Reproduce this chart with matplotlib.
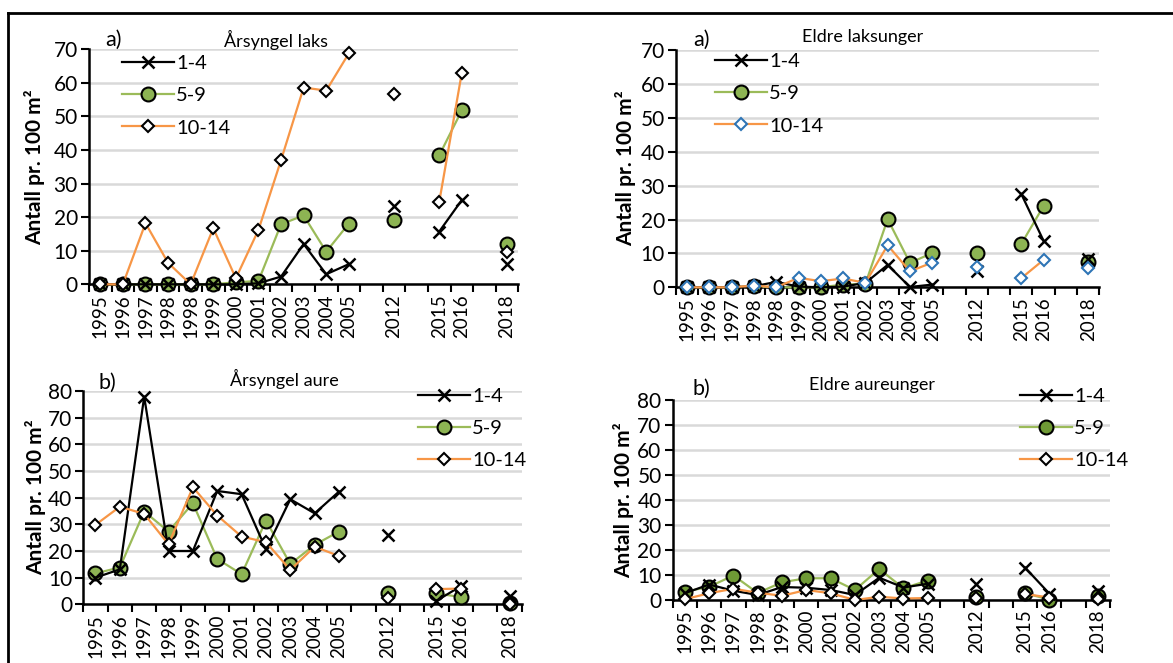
import numpy as np
import matplotlib.pyplot as plt
from matplotlib.lines import Line2D

plt.rcParams['font.family'] = ['Lato', 'DejaVu Sans']

# category labels (blank = empty slot on the axis)
years_top = ['1995', '1996', '1997', '1998', '1998', '1999', '2000', '2001', '2002', '2003',
             '2004', '2005', '', '2012', '', '2015', '2016', '', '2018']
years_bot = ['1995', '1996', '1997', '1998', '1999', '2000', '2001', '2002', '2003',
             '2004', '2005', '', '2012', '', '2015', '2016', '', '2018']
n = np.nan

# a) Arsyngel laks
laks0_14 = [0, 0, 0, 0, 0, 0, 0, 0.3, 2.3, 12, 3, 6, n, 23.3, n, 15.7, 25.1, n, 6]
laks0_59 = [0, 0, 0, 0, 0, 0, 0.6, 1.0, 17.9, 20.5, 9.7, 18.1, n, 19.2, n, 38.4, 51.8, n, 11.9]
laks0_1014 = [0, 0, 18.2, 6.4, 0, 16.7, 1.8, 16.2, 37, 58.6, 57.7, 68.8, n, 56.6, n, 24.5, 63, n, 9.7]

# a) Eldre laksunger
laks1_14 = [0, 0, 0, 0.3, 1.6, 0.2, 0, 0.2, 1.3, 6.6, 0.1, 0.8, n, 4.9, n, 27.5, 13.7, n, 8.3]
laks1_59 = [0, 0, 0, 0.3, 0, 0, 0, 0.8, 1.0, 20.1, 7.2, 10.1, n, 10.2, n, 12.8, 24.0, n, 7.4]
laks1_1014 = [0, 0, 0, 0.5, 0, 2.8, 1.8, 2.6, 1.3, 12.4, 4.7, 7.3, n, 5.9, n, 2.7, 8.1, n, 5.6]

# b) Arsyngel aure
aure0_14 = [10, 13.1, 77.9, 20, 20, 42.5, 41.3, 20.6, 39.4, 34.1, 42.3, n, 26, n, 1.3, 6.8, n, 3.2]
aure0_59 = [11.6, 13.8, 34.8, 27.3, 37.9, 17, 11.3, 31.4, 15.1, 22.3, 27.3, n, 4.4, n, 4.1, 2.7, n, 0.6]
aure0_1014 = [29.8, 36.6, 33.9, 22.5, 43.9, 33.3, 25.4, 23.3, 12.9, 21.6, 18.1, n, 2.3, n, 5.7, 5.9, n, 0.3]

# b) Eldre aureunger
aure1_14 = [2.7, 6.2, 3.7, 2.0, 5.2, 4.9, 4.0, 2.0, 8.9, 5.0, 6.5, n, 6.6, n, 13.0, 2.6, n, 3.8]
aure1_59 = [3.3, 5.3, 9.8, 2.8, 7.1, 8.7, 8.7, 4.0, 12.4, 4.7, 7.8, n, 1.3, n, 2.7, 0.2, n, 1.8]
aure1_1014 = [0.3, 2.7, 4.5, 2.9, 1.7, 4.0, 2.7, 0, 1.3, 0.6, 0.8, n, 0.8, n, 2.4, 1.0, n, 0.4]

W, H = 1173, 663
fig = plt.figure(figsize=(W / 100, H / 100), dpi=100)

GREEN_LINE = '#9bbb59'
ORANGE = '#f79646'
GRID = '#d9d9d9'


def px_axes(left, top, right, bottom):
    return fig.add_axes([left / W, 1 - bottom / H, (right - left) / W, (bottom - top) / H])


def panel(box, cats, s14, s59, s1014, ymax, title, tpos, letter, lpos, ylab_x,
          leg_anchor, diamond_edge='black', green_face='#8db453'):
    ax = px_axes(*box)
    x = np.arange(len(cats))
    ax.plot(x, s14, color='black', lw=1.6, marker='x', ms=9, mew=1.8, label='1-4',
            zorder=4, clip_on=False)
    ax.plot(x, s59, color=GREEN_LINE, lw=1.6, marker='o', ms=10, mfc=green_face, mec='black',
            mew=1.5, label='5-9', zorder=3, clip_on=False)
    ax.plot(x, s1014, color=ORANGE, lw=1.6, marker='D', ms=6.5, mfc='white', mec=diamond_edge,
            mew=1.5, label='10-14', zorder=5, clip_on=False)
    ax.set_xlim(-0.5, len(cats) - 0.5)
    ax.set_ylim(0, ymax)
    ax.set_yticks(np.arange(0, ymax + 1, 10))
    ax.yaxis.grid(True, color=GRID, lw=1.8)
    ax.set_axisbelow(True)
    ax.set_xticks(x)
    ax.set_xticklabels(cats, rotation=90, fontsize=13.5)
    ax.set_xticks(np.arange(-0.5, len(cats)), minor=True)
    ax.tick_params(axis='x', which='major', length=0, pad=7)
    ax.tick_params(axis='x', which='minor', length=6, width=1.5, direction='out')
    ax.tick_params(axis='y', length=6, width=1.5, labelsize=15, pad=2)
    for s in ['top', 'right']:
        ax.spines[s].set_visible(False)
    for s in ['left', 'bottom']:
        ax.spines[s].set_linewidth(1.8)
    ax.legend(loc='upper left', bbox_to_anchor=(leg_anchor[0] / W, 1 - leg_anchor[1] / H),
              bbox_transform=fig.transFigure, frameon=False, fontsize=14.5, handlelength=2.6,
              handletextpad=0.1, labelspacing=0.75, borderaxespad=0, borderpad=0)
    fig.text(tpos[0] / W, 1 - tpos[1] / H, title, ha='center', va='center', fontsize=13)
    fig.text(lpos[0] / W, 1 - lpos[1] / H, letter, ha='left', va='center', fontsize=15.5)
    mid = (box[1] + box[3]) / 2
    fig.text(ylab_x / W, 1 - mid / H, 'Antall pr. 100 m²', rotation=90, ha='center',
             va='center', fontsize=15, fontweight='bold')
    return ax


panel((89, 49.3, 518.3, 284.3), years_top, laks0_14, laks0_59, laks0_1014, 70,
      'Årsyngel laks', (276, 40), 'a)', (105, 40), 35, (122, 55))
panel((676, 50, 1099.3, 287.3), years_top, laks1_14, laks1_59, laks1_1014, 70,
      'Eldre laksunger', (863, 37), 'a)', (693, 40), 626, (715, 53), diamond_edge='#2e75b6')
panel((83.3, 391, 521.7, 604.3), years_bot, aure0_14, aure0_59, aure0_1014, 80,
      'Årsyngel aure', (284, 379), 'b)', (98, 383), 36, (418, 388))
panel((672.7, 400, 1110, 600), years_bot, aure1_14, aure1_59, aure1_1014, 80,
      'Eldre aureunger', (872, 385), 'b)', (692, 389), 624, (1020, 388), green_face='#6f9a35')

# outer frame of the picture
fig.add_artist(Line2D([8 / W, 8 / W], [0, 1 - 13 / H], color='black', lw=2))
fig.add_artist(Line2D([8 / W, 1], [1 - 13 / H, 1 - 13 / H], color='black', lw=2))

fig.savefig('out.png', dpi=100)
